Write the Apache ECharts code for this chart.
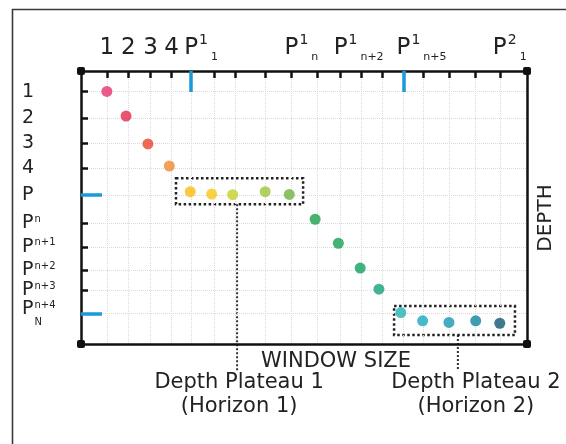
<!DOCTYPE html>
<html>
<head>
<meta charset="utf-8">
<script src="https://cdn.jsdelivr.net/npm/echarts@6/dist/echarts.min.js"></script>
<style>
  html, body { margin: 0; padding: 0; background: #ffffff; }
  #chart { width: 566px; height: 444px; }
</style>
</head>
<body>
<div id="chart"></div>
<script>
// ---- Window-size axis (0..100 along the axis) ----
const windowTicks = [5.8, 10.6, 15.6, 20.3, 24.7, 29.8, 34.5, 41.4, 47.2, 53.0, 58.2, 62.9, 67.6, 72.3, 76.7, 82.5, 88.3, 93.9];
const windowMarkers = [24.7, 72.3];
const windowLabelAt = [5.8, 10.6, 15.6, 20.3, 24.7, 47.2, 58.2, 72.3, 93.9];
const windowLabelBase = ['1', '2', '3', '4', 'P', 'P', 'P', 'P', 'P'];
const windowLabelSup = ['', '', '', '', '1', '1', '1', '1', '2'];
const windowLabelSub = ['', '', '', '', '1', 'n', 'n+2', 'n+5', '1'];

// ---- Depth axis (0 at top, 0..100) ----
const depthTicks = [7.6, 17.3, 26.5, 35.6, 45.4, 55.8, 64.4, 72.9, 80.2, 88.8];
const depthMarkers = [45.4, 88.8];
const depthLabelBase = ['1', '2', '3', '4', 'P', 'P', 'P', 'P', 'P', 'P'];
const depthLabelSup = ['', '', '', '', '', 'n', 'n+1', 'n+2', 'n+3', 'n+4'];
const depthLabelSub = ['', '', '', '', '', '', '', '', '', 'N'];

// ---- Picks: window size vs. depth ----
const pickWindow = [5.8, 10.1, 15.0, 19.8, 24.5, 29.3, 34.0, 41.3, 46.7, 52.5, 57.7, 62.6, 66.8, 71.7, 76.6, 82.5, 88.5, 93.9];
const pickDepth  = [7.5, 16.5, 26.7, 34.8, 44.2, 45.1, 45.3, 44.2, 45.2, 54.3, 63.1, 72.2, 79.9, 88.5, 91.5, 92.1, 91.5, 92.4];
const pickColors = ['#e8326f', '#e42a4d', '#e8462c', '#f08a30',
                    '#f9bb10', '#f8c616', '#c4cf2c', '#9dc53a', '#6fb33e',
                    '#1b9f48', '#15a052', '#12a060', '#16a07c',
                    '#20b3b3', '#1aa8bd', '#1597b4', '#12839e', '#0f5a70'];

// ---- Depth plateaus ----
const plateauWindow = [[21.3, 49.8], [70.2, 97.3]];
const plateauDepth  = [[39.3, 48.8], [86.1, 96.7]];
const plateauLeader = [35.0, 84.5];
const plateauTitle  = ['Depth Plateau 1', 'Depth Plateau 2'];
const plateauNote   = ['(Horizon 1)', '(Horizon 2)'];

const FONT = 'DejaVu Sans';
const INK = '#222222';
const AXIS = '#111111';
const MARK = '#1a9ad6';

const measure = document.createElement('canvas').getContext('2d');
function textWidth(str, size) {
  measure.font = size + 'px "' + FONT + '"';
  return measure.measureText(str).width;
}
function findIndex(arr, v) {
  for (let i = 0; i < arr.length; i++) if (Math.abs(arr[i] - v) < 1e-6) return i;
  return -1;
}

// rich styles for the window-size labels
const topRich = {
  d:   { fontFamily: FONT, fontSize: 23, color: INK, lineHeight: 30, verticalAlign: 'middle' },
  sup: { fontFamily: FONT, fontSize: 14, color: INK, lineHeight: 20, verticalAlign: 'top', padding: [0, 0, 0, 1] },
  sub: { fontFamily: FONT, fontSize: 11, color: INK, lineHeight: 8, verticalAlign: 'bottom', padding: [0, 0, 0, 3] }
};
windowLabelAt.forEach((v, i) => {
  if (windowLabelSup[i]) {
    const w = textWidth(windowLabelSup[i], 14) + 1 + textWidth(windowLabelSub[i], 11) + 3;
    topRich['sp' + i] = { width: w, fontSize: 8, lineHeight: 8 };
  }
});

// rich styles for the depth labels
const leftRich = {
  d:    { fontFamily: FONT, fontSize: 19, color: INK, lineHeight: 18, verticalAlign: 'middle' },
  sup:  { fontFamily: FONT, fontSize: 10, color: INK, lineHeight: 10, verticalAlign: 'top', padding: [0, 0, 0, 1] },
  spN:  { width: textWidth('P', 19), fontSize: 10, lineHeight: 9 },
  subN: { fontFamily: FONT, fontSize: 10, color: INK, lineHeight: 9, padding: [0, 0, 0, 1] }
};

const chart = echarts.init(document.getElementById('chart'));

const gridBox = { left: 81, right: 39, top: 71, bottom: 100 };

const baseAxisLine = {
  show: true, onZero: false,
  lineStyle: { color: AXIS, width: 2.5 },
  symbol: ['roundRect', 'roundRect'], symbolSize: [8, 8]
};

const blackWindowTicks = windowTicks.filter(v => findIndex(windowMarkers, v) < 0);
const blackDepthTicks = depthTicks.filter(v => findIndex(depthMarkers, v) < 0);

const option = {
  animation: false,
  backgroundColor: '#ffffff',
  grid: [
    Object.assign({ containLabel: false }, gridBox),
    Object.assign({ containLabel: false }, gridBox)
  ],
  xAxis: [
    {
      gridIndex: 0, type: 'value', position: 'top', min: 0, max: 100, z: 10,
      axisLine: baseAxisLine,
      axisTick: { show: true, inside: true, length: 7, customValues: blackWindowTicks,
                  lineStyle: { color: AXIS, width: 2.5 } },
      axisLabel: {
        show: true, margin: 8, customValues: windowLabelAt, rich: topRich,
        showMinLabel: true, showMaxLabel: true, hideOverlap: false,
        formatter: function (value) {
          const i = findIndex(windowLabelAt, value);
          if (i < 0) return '';
          if (!windowLabelSup[i]) return '{d|' + windowLabelBase[i] + '}';
          return '{sp' + i + '| }{d|' + windowLabelBase[i] + '}{sup|' + windowLabelSup[i] + '}{sub|' + windowLabelSub[i] + '}';
        }
      },
      splitLine: { show: false }
    },
    {
      gridIndex: 0, type: 'value', position: 'bottom', min: 0, max: 100, z: 10,
      axisLine: baseAxisLine,
      axisTick: { show: false }, axisLabel: { show: false }, splitLine: { show: false }
    },
    {
      gridIndex: 1, type: 'value', position: 'top', min: 0, max: 100, z: 11,
      axisLine: { show: false, onZero: false },
      axisTick: { show: true, inside: true, length: 21, customValues: windowMarkers,
                  lineStyle: { color: MARK, width: 3.5 } },
      axisLabel: { show: false }, splitLine: { show: false }
    }
  ],
  yAxis: [
    {
      gridIndex: 0, type: 'value', position: 'left', min: 0, max: 100, inverse: true, z: 10,
      axisLine: { show: true, onZero: false, lineStyle: { color: AXIS, width: 2.5 } },
      axisTick: { show: true, inside: true, length: 7, customValues: blackDepthTicks,
                  lineStyle: { color: AXIS, width: 2.5 } },
      axisLabel: {
        show: true, align: 'left', margin: 59, customValues: depthTicks, rich: leftRich,
        showMinLabel: true, showMaxLabel: true, hideOverlap: false,
        formatter: function (value) {
          const i = findIndex(depthTicks, value);
          if (i < 0) return '';
          let s = '{d|' + depthLabelBase[i] + '}';
          if (depthLabelSup[i]) s += '{sup|' + depthLabelSup[i] + '}';
          if (depthLabelSub[i]) s += '\n{spN| }{subN|' + depthLabelSub[i] + '}';
          return s;
        }
      },
      splitLine: { show: false }
    },
    {
      gridIndex: 0, type: 'value', position: 'right', min: 0, max: 100, inverse: true, z: 10,
      axisLine: { show: true, onZero: false, lineStyle: { color: AXIS, width: 2.5 } },
      axisTick: { show: false }, axisLabel: { show: false }, splitLine: { show: false }
    },
    {
      gridIndex: 1, type: 'value', position: 'left', min: 0, max: 100, inverse: true, z: 11,
      axisLine: { show: false, onZero: false },
      axisTick: { show: true, inside: true, length: 21, customValues: depthMarkers,
                  lineStyle: { color: MARK, width: 3.5 } },
      axisLabel: { show: false }, splitLine: { show: false }
    }
  ],
  series: [
    {
      // faint dotted guides at every tick
      type: 'scatter', xAxisIndex: 0, yAxisIndex: 0, z: 1, silent: true,
      data: [],
      markLine: {
        silent: true, symbol: ['none', 'none'], animation: false,
        label: { show: false },
        lineStyle: { color: '#d9d9d9', type: 'dotted', width: 1 },
        emphasis: { disabled: true },
        data: windowTicks.map(v => ({ xAxis: v })).concat(depthTicks.map(v => ({ yAxis: v })))
      }
    },
    {
      type: 'scatter', xAxisIndex: 0, yAxisIndex: 0,
      symbolSize: 11, z: 5,
      data: pickWindow.map((x, i) => ({
        value: [x, pickDepth[i]],
        itemStyle: { color: pickColors[i] }
      })),
      markArea: {
        silent: true,
        itemStyle: { color: 'rgba(0,0,0,0)', borderColor: '#222', borderWidth: 2.5, borderType: 'dotted' },
        emphasis: { disabled: true },
        label: { show: false },
        data: plateauWindow.map((xr, i) => [
          { xAxis: xr[0], yAxis: plateauDepth[i][0] },
          { xAxis: xr[1], yAxis: plateauDepth[i][1] }
        ])
      }
    }
  ]
};

chart.setOption(option);

// leader lines and captions under each plateau
const graphics = [
  { type: 'rect', silent: true, z: 0,
    shape: { x: 12.5, y: 9.5, width: 620, height: 520 },
    style: { fill: 'none', stroke: '#3a3a3a', lineWidth: 1.6 } },
  { type: 'text', silent: true, x: 336, y: 362,
    style: { text: 'WINDOW SIZE', font: '21px "' + FONT + '"', fill: INK, align: 'center', verticalAlign: 'middle' } },
  { type: 'text', silent: true, x: 546, y: 218, rotation: Math.PI / 2,
    style: { text: 'DEPTH', font: '20px "' + FONT + '"', fill: INK, align: 'center', verticalAlign: 'middle' } }
];
const captionShift = [2, 18];
plateauLeader.forEach((xv, i) => {
  const top = chart.convertToPixel({ gridIndex: 0 }, [xv, plateauDepth[i][1]]);
  graphics.push({
    type: 'line', silent: true,
    shape: { x1: top[0], y1: top[1], x2: top[0], y2: 371 },
    style: { stroke: '#333', lineWidth: 2, lineDash: [2, 2] }
  });
  graphics.push({
    type: 'text', silent: true, x: top[0] + captionShift[i], y: 383,
    style: { text: plateauTitle[i], font: '21px "' + FONT + '"', fill: INK, align: 'center', verticalAlign: 'middle' }
  });
  graphics.push({
    type: 'text', silent: true, x: top[0] + captionShift[i], y: 407,
    style: { text: plateauNote[i], font: '21px "' + FONT + '"', fill: INK, align: 'center', verticalAlign: 'middle' }
  });
});
chart.setOption({ graphic: graphics });
</script>
</body>
</html>
